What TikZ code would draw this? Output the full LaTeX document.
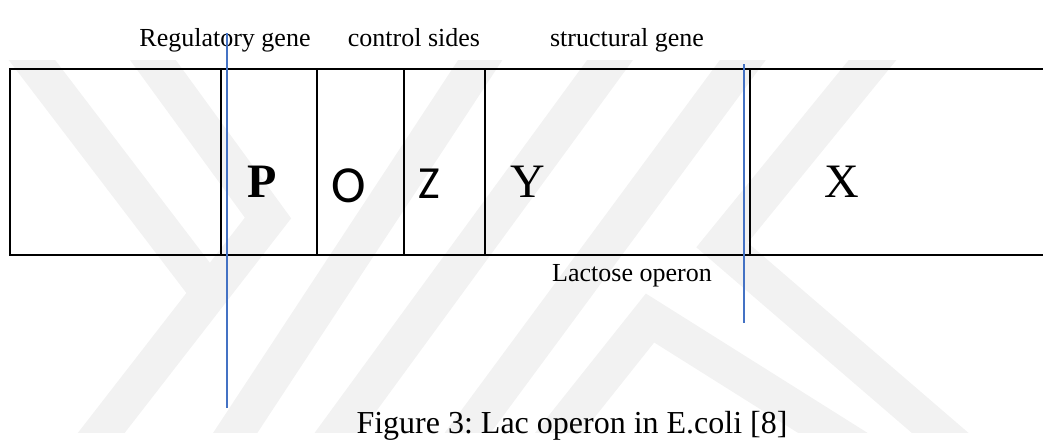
\documentclass[tikz,border=0pt]{standalone}
\usepackage{fontspec}
\setmainfont{Liberation Serif}
\newfontfamily\calib{Carlito}
\definecolor{officeblue}{RGB}{68,114,196}
\definecolor{wmgray}{RGB}{242,242,242}
\frenchspacing
\begin{document}
\begin{tikzpicture}[x=1pt,y=-1pt,
  wm/.style={draw=wmgray,line width=37pt,line cap=butt,line join=miter},
  boxline/.style={draw=black,line width=1.5pt},
  guide/.style={draw=officeblue,line width=1.1pt},
  lbl/.style={anchor=base,inner sep=0pt,font=\fontsize{26}{30}\selectfont},
  big/.style={anchor=base,inner sep=0pt,font=\fontsize{48}{52}\selectfont}]
\useasboundingbox (0,0) rectangle (1043,442);
% watermark
\begin{scope}
\clip (0,60) rectangle (1043,432);
\draw[wm] (9,30) -- (215,300);
\draw[wm] (131,30) -- (268,218) -- (88,450);
\draw[wm] (500,30) -- (224,450);
\draw[wm] (632,30) -- (325,450);
\draw[wm] (765,30) -- (455,450);
\draw[wm] (897,30) -- (722,245) -- (960,450);
\draw[wm] (545,450) -- (650,318) -- (860,450);
\end{scope}
% box
\coordinate (tl) at (10,69);
\coordinate (bl) at (10,255);
\coordinate (tr) at (1050,69);
\coordinate (br) at (1050,255);
\draw[boxline] (tr) -- (tl) -- (bl) -- (br);
\foreach \xx in {221,317,404,485,750}{
  \draw[boxline] (\xx,69) -- (\xx,255);
}
% labels
\node[lbl] (reg) at (225,46) {Regulatory gene};
\node[lbl] (ctl) at (414,46) {control sides};
\node[lbl] (str) at (627,46) {structural gene};
\node[lbl] (lac) at (632,281) {Lactose operon};
\node[anchor=base,inner sep=0pt,font=\fontsize{32}{36}\selectfont] (cap) at (572,433) {Figure 3: Lac operon in E.coli [8]};
% letters
\node[big,font=\fontsize{48}{52}\selectfont\bfseries] (P) at (262,197) {P};
\node[anchor=base,inner sep=0pt,font=\fontsize{52}{56}\selectfont\calib] (O) at (349,202) {O};
\node[anchor=base,inner sep=0pt,font=\fontsize{46}{50}\selectfont\calib] (Z) at (429,198) {Z};
\node[big] (Y) at (528,197) {Y};
\node[big] (X) at (842,197) {X};
% blue guide lines
\coordinate (g1t) at (227,33);
\coordinate (g1b) at (227,408);
\coordinate (g2t) at (744,64);
\coordinate (g2b) at (744,323);
\draw[guide] (g1t) -- (g1b);
\draw[guide] (g2t) -- (g2b);
\end{tikzpicture}
\end{document}
